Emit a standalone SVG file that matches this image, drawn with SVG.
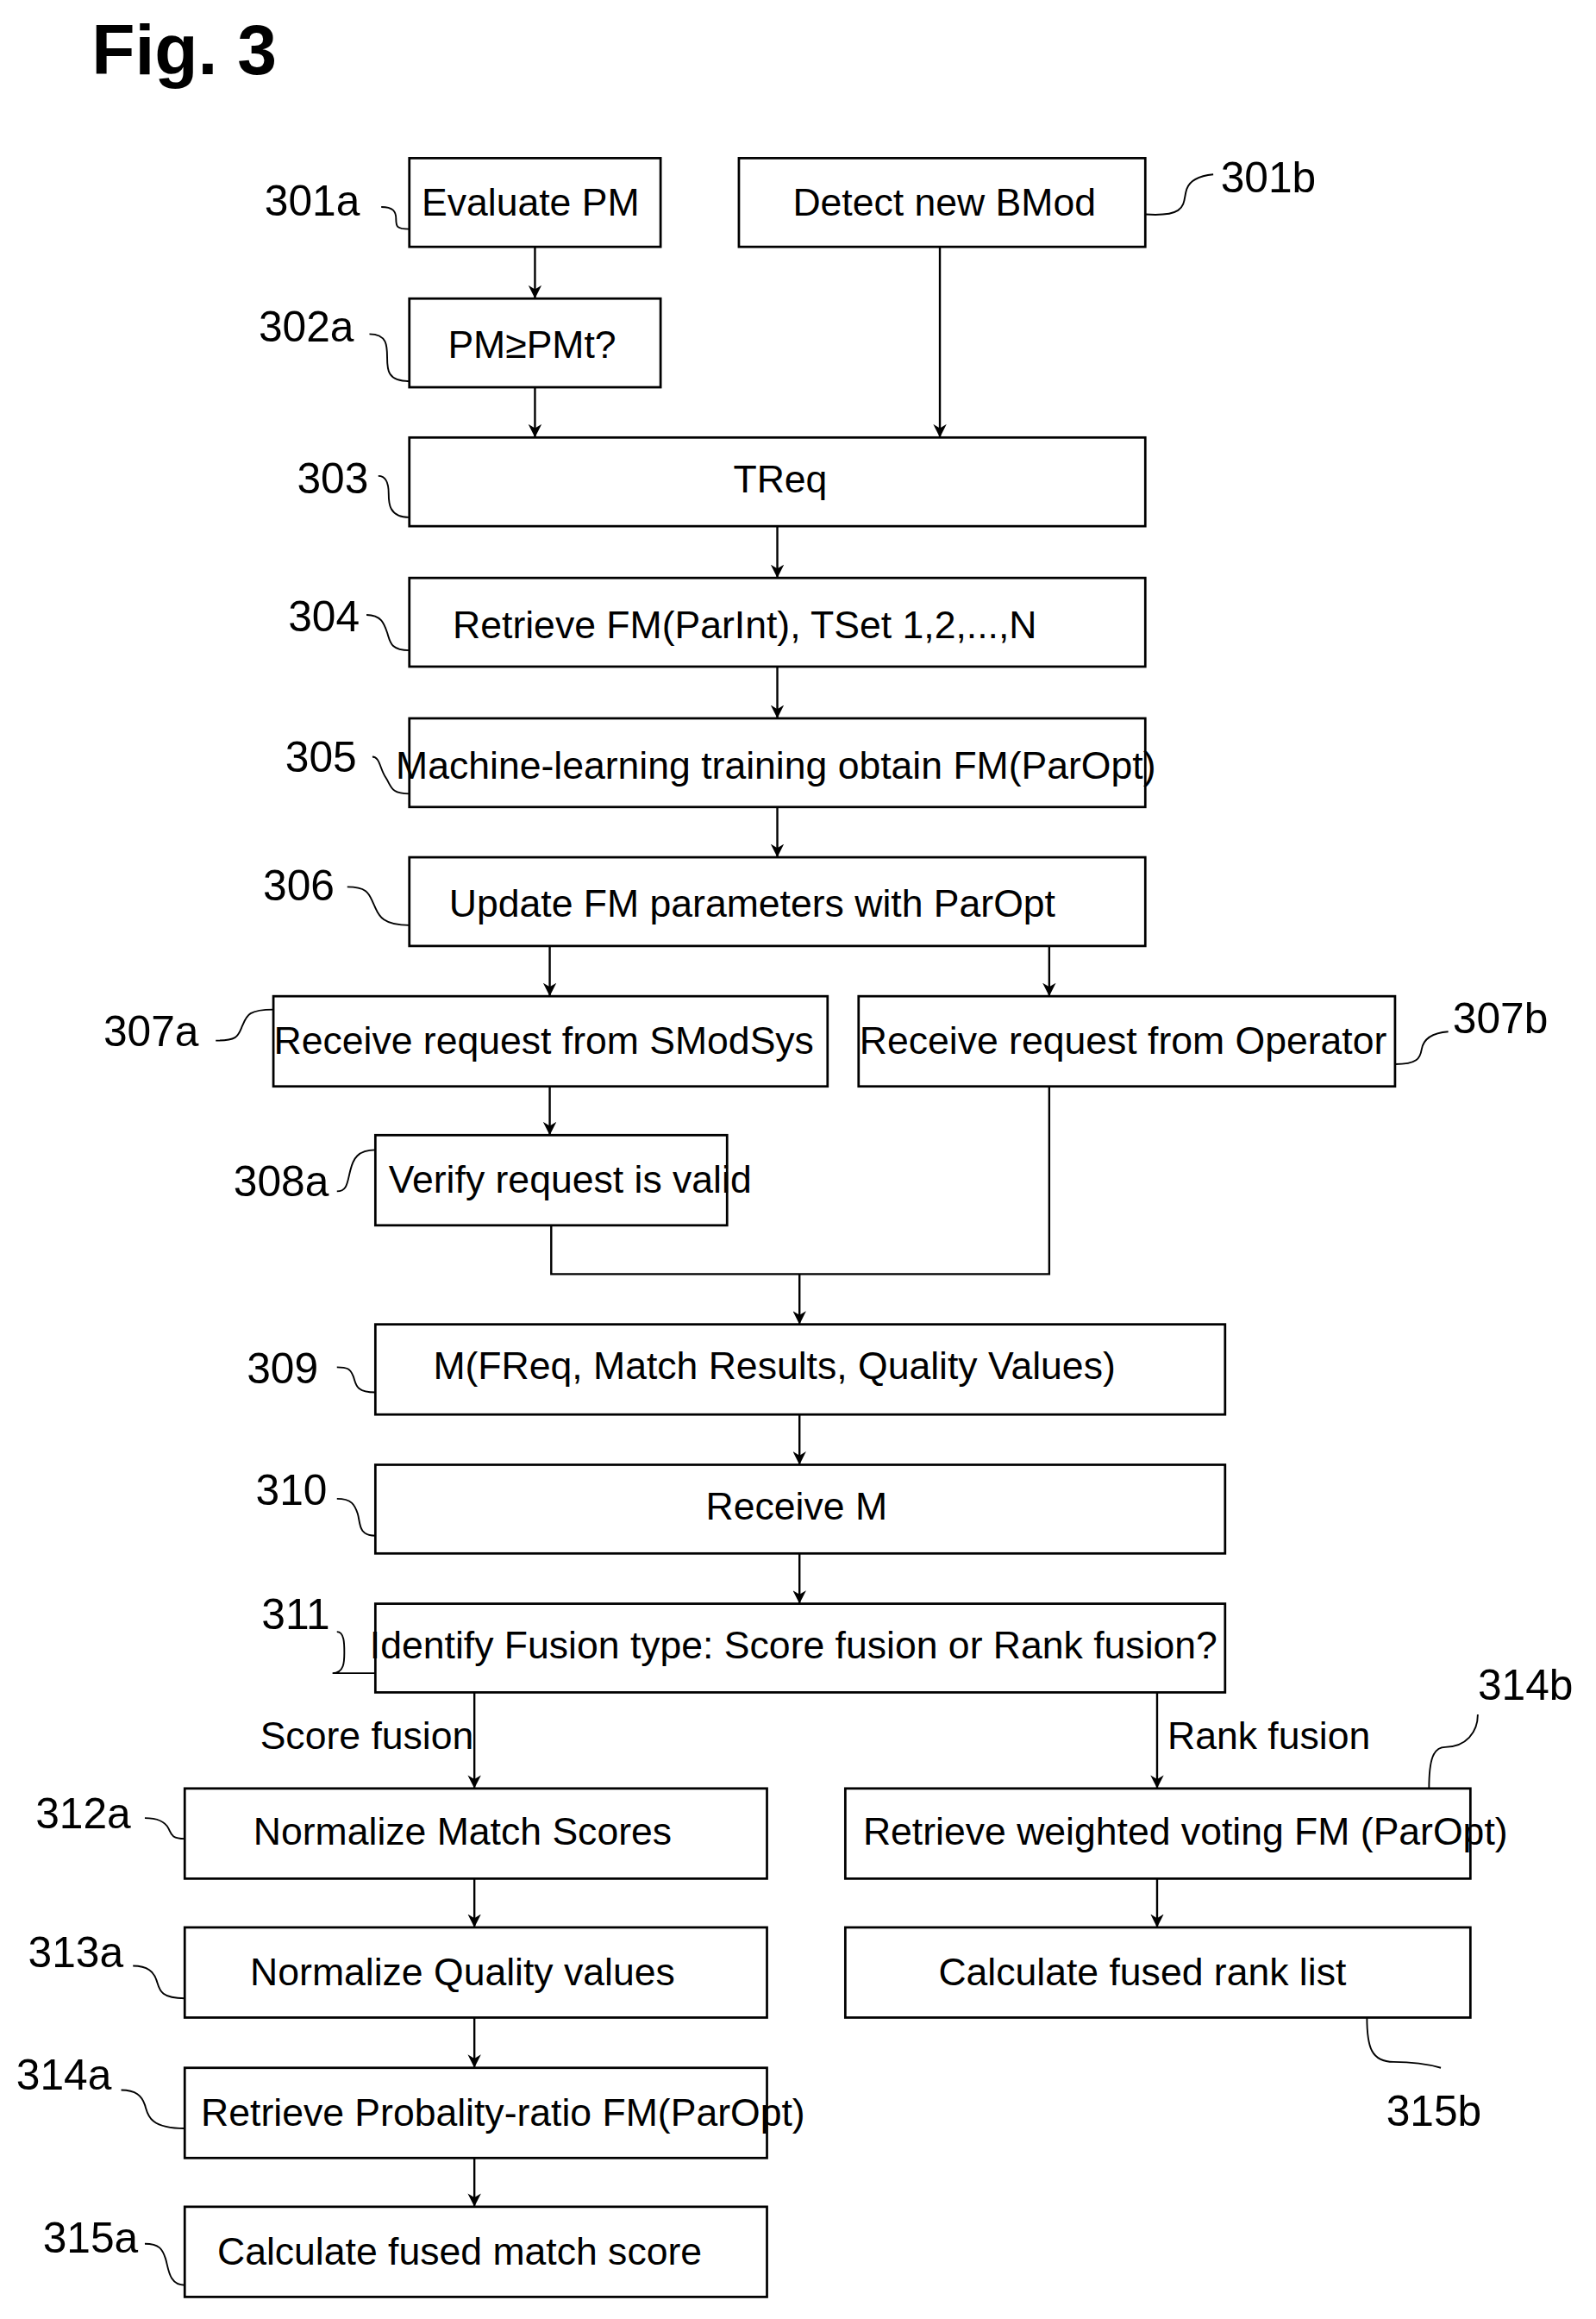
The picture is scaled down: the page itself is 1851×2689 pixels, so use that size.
<svg xmlns="http://www.w3.org/2000/svg" width="1851" height="2689" viewBox="0 0 1851 2689">
<style>
.b{fill:#fff;stroke:#000;stroke-width:1.6}
.t{font-family:"Liberation Sans Narrow","Liberation Sans",Arial,sans-serif;font-size:26px;fill:#000}
.m{text-anchor:middle}
.l{font-family:"Liberation Sans Narrow","Liberation Sans",Arial,sans-serif;font-size:29px;fill:#000}
.c{fill:none;stroke:#000;stroke-width:1.4}
.k{fill:none;stroke:#000;stroke-width:1.1}
</style>
<defs><marker id="a" viewBox="0 0 10 10" refX="10" refY="5" markerWidth="9" markerHeight="9" orient="auto" markerUnits="userSpaceOnUse"><path d="M0,0 L10,5 L0,10 L3,5 Z" fill="#000"/></marker></defs>
<rect width="1851" height="2689" fill="#fff"/>
<g transform="scale(1.7139)">
<text x="62" y="50" style="font-family:'Liberation Sans',Arial,sans-serif;font-weight:bold;font-size:48px">Fig. 3</text>
<g id="connectors">
<path class="c" marker-end="url(#a)" d="M362,167V202"/>
<path class="c" marker-end="url(#a)" d="M636,167V296"/>
<path class="c" marker-end="url(#a)" d="M362,262V296"/>
<path class="c" marker-end="url(#a)" d="M526,356V391"/>
<path class="c" marker-end="url(#a)" d="M526,451V486"/>
<path class="c" marker-end="url(#a)" d="M526,546V580"/>
<path class="c" marker-end="url(#a)" d="M372,640V674"/>
<path class="c" marker-end="url(#a)" d="M710,640V674"/>
<path class="c" marker-end="url(#a)" d="M372,735V768"/>
<path class="c" d="M373,829V862H710V735"/>
<path class="c" marker-end="url(#a)" d="M541,862V896"/>
<path class="c" marker-end="url(#a)" d="M541,957V991"/>
<path class="c" marker-end="url(#a)" d="M541,1051V1085"/>
<path class="c" marker-end="url(#a)" d="M321,1145V1210"/>
<path class="c" marker-end="url(#a)" d="M783,1145V1210"/>
<path class="c" marker-end="url(#a)" d="M321,1271V1304"/>
<path class="c" marker-end="url(#a)" d="M321,1365V1399"/>
<path class="c" marker-end="url(#a)" d="M321,1460V1493"/>
<path class="c" marker-end="url(#a)" d="M783,1271V1304"/>
<text class="l" x="176" y="1183" style="font-size:26px">Score fusion</text>
<text class="l" x="790" y="1183" style="font-size:26px">Rank fusion</text>
</g>
<g id="leaders">
<path class="k" d="M258,140c8,0 10,3 10,8s0,7 9,7"/>
<path class="k" d="M775,145c30,2 25,-8 28,-17c2,-6 8,-9 18,-10"/>
<path class="k" d="M250,226c12,0 12,8 12,16s0,16 15,16"/>
<path class="k" d="M256,322c6,0 7,6 7,12s0,16 14,16"/>
<path class="k" d="M248,416c10,0 12,6 14,12s2,12 15,12"/>
<path class="k" d="M252,512c5,0 5,8 9,14s3,11 16,11"/>
<path class="k" d="M235,600c15,0 15,6 18,12s4,14 24,14"/>
<path class="k" d="M146,704c15,0 15,-3 18,-10s4,-11 21,-11"/>
<path class="k" d="M944,720c15,0 17,-4 18,-10s5,-11 18,-12"/>
<path class="k" d="M228,806c7,0 7,-6 9,-14s5,-14 17,-14"/>
<path class="k" d="M228,925c7,0 9,1 11,6s1,11 15,11"/>
<path class="k" d="M228,1014c10,0 12,4 14,10s0,15 12,15"/>
<path class="k" d="M228,1104c5,0 5,8 5,14s0,14 -8,14h29"/>
<path class="k" d="M98,1230c10,0 14,3 16,7s2,7 11,7"/>
<path class="k" d="M90,1330c10,0 14,4 16,10s2,12 19,12"/>
<path class="k" d="M82,1414c10,0 14,4 16,10s2,16 27,16"/>
<path class="k" d="M98,1518c10,0 12,4 14,10s2,18 13,18"/>
<path class="k" d="M1000,1160c0,12 -8,22 -22,22c-8,0 -11,8 -11,28"/>
<path class="k" d="M925,1365c0,20 3,30 18,30c15,0 25,2 32,4"/>
</g>
<g id="labels">
<text class="l" x="179" y="146">301a</text>
<text class="l" x="826" y="130">301b</text>
<text class="l" x="175" y="231">302a</text>
<text class="l" x="201" y="334">303</text>
<text class="l" x="195" y="427">304</text>
<text class="l" x="193" y="522">305</text>
<text class="l" x="178" y="609">306</text>
<text class="l" x="70" y="708">307a</text>
<text class="l" x="983" y="699">307b</text>
<text class="l" x="158" y="809">308a</text>
<text class="l" x="167" y="936">309</text>
<text class="l" x="173" y="1018">310</text>
<text class="l" x="177" y="1102">311</text>
<text class="l" x="24" y="1237">312a</text>
<text class="l" x="19" y="1331">313a</text>
<text class="l" x="11" y="1414">314a</text>
<text class="l" x="29" y="1524">315a</text>
<text class="l" x="1000" y="1150">314b</text>
<text class="l" x="938" y="1438">315b</text>
</g>
<g id="n301a"><rect class="b" x="277" y="107" width="170" height="60"/><text class="t m" x="359" y="146">Evaluate PM</text></g>
<g id="n301b"><rect class="b" x="500" y="107" width="275" height="60"/><text class="t m" x="639" y="146">Detect new BMod</text></g>
<g id="n302a"><rect class="b" x="277" y="202" width="170" height="60"/><text class="t m" x="360" y="242">PM≥PMt?</text></g>
<g id="n303"><rect class="b" x="277" y="296" width="498" height="60"/><text class="t m" x="528" y="333">TReq</text></g>
<g id="n304"><rect class="b" x="277" y="391" width="498" height="60"/><text class="t m" x="504" y="432">Retrieve FM(ParInt), TSet 1,2,...,N</text></g>
<g id="n305"><rect class="b" x="277" y="486" width="498" height="60"/><text class="t m" x="525" y="527">Machine-learning training obtain FM(ParOpt)</text></g>
<g id="n306"><rect class="b" x="277" y="580" width="498" height="60"/><text class="t m" x="509" y="620">Update FM parameters with ParOpt</text></g>
<g id="n307a"><rect class="b" x="185" y="674" width="375" height="61"/><text class="t m" x="368" y="713">Receive request from SModSys</text></g>
<g id="n307b"><rect class="b" x="581" y="674" width="363" height="61"/><text class="t m" x="760" y="713">Receive request from Operator</text></g>
<g id="n308a"><rect class="b" x="254" y="768" width="238" height="61"/><text class="t" x="263" y="807">Verify request is valid</text></g>
<g id="n309"><rect class="b" x="254" y="896" width="575" height="61"/><text class="t m" x="524" y="933">M(FReq, Match Results, Quality Values)</text></g>
<g id="n310"><rect class="b" x="254" y="991" width="575" height="60"/><text class="t m" x="539" y="1028">Receive M</text></g>
<g id="n311"><rect class="b" x="254" y="1085" width="575" height="60"/><text class="t m" x="537" y="1122">Identify Fusion type: Score fusion or Rank fusion?</text></g>
<g id="n312a"><rect class="b" x="125" y="1210" width="394" height="61"/><text class="t m" x="313" y="1248">Normalize Match Scores</text></g>
<g id="n313a"><rect class="b" x="125" y="1304" width="394" height="61"/><text class="t m" x="313" y="1343">Normalize Quality values</text></g>
<g id="n314a"><rect class="b" x="125" y="1399" width="394" height="61"/><text class="t" x="136" y="1438">Retrieve Probality-ratio FM(ParOpt)</text></g>
<g id="n315a"><rect class="b" x="125" y="1493" width="394" height="61"/><text class="t m" x="311" y="1532">Calculate fused match score</text></g>
<g id="n314b"><rect class="b" x="572" y="1210" width="423" height="61"/><text class="t" x="584" y="1248">Retrieve weighted voting FM (ParOpt)</text></g>
<g id="n315b"><rect class="b" x="572" y="1304" width="423" height="61"/><text class="t m" x="773" y="1343">Calculate fused rank list</text></g>
</g>
</svg>
